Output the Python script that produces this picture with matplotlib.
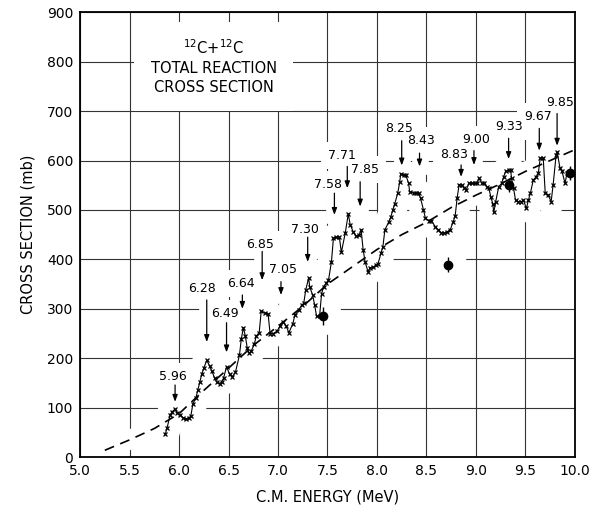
import numpy as np
import matplotlib
matplotlib.use("Agg")
import matplotlib.pyplot as plt

# ==================== DATA ====================

# measured total reaction cross section (x marks joined by a line)
energy = [5.86, 5.88, 5.91, 5.93, 5.96, 5.98, 6.01, 6.04, 6.07, 6.10,
          6.12, 6.14, 6.17, 6.19, 6.21, 6.23, 6.25, 6.28, 6.31, 6.33,
          6.36, 6.38, 6.41, 6.43, 6.45, 6.48, 6.51, 6.54, 6.57, 6.61,
          6.63, 6.65, 6.67, 6.69, 6.71, 6.73, 6.76, 6.78, 6.81, 6.83,
          6.87, 6.90, 6.92, 6.95, 6.99, 7.02, 7.05, 7.08, 7.11, 7.15,
          7.17, 7.21, 7.24, 7.26, 7.28, 7.31, 7.32, 7.35, 7.37, 7.39,
          7.42, 7.44, 7.46, 7.49, 7.51, 7.54, 7.56, 7.59, 7.62, 7.64,
          7.68, 7.71, 7.73, 7.76, 7.79, 7.82, 7.84, 7.86, 7.88, 7.91,
          7.93, 7.96, 7.99, 8.01, 8.04, 8.06, 8.08, 8.12, 8.14, 8.16,
          8.18, 8.21, 8.23, 8.24, 8.27, 8.29, 8.32, 8.33, 8.37, 8.39,
          8.42, 8.44, 8.47, 8.49, 8.53, 8.55, 8.59, 8.62, 8.65, 8.68,
          8.71, 8.74, 8.77, 8.79, 8.81, 8.83, 8.86, 8.88, 8.90, 8.93,
          8.96, 8.99, 9.01, 9.03, 9.06, 9.08, 9.11, 9.13, 9.15, 9.17,
          9.18, 9.20, 9.23, 9.26, 9.28, 9.30, 9.33, 9.35, 9.36, 9.38,
          9.40, 9.43, 9.46, 9.48, 9.51, 9.53, 9.55, 9.58, 9.61, 9.63,
          9.65, 9.68, 9.70, 9.73, 9.76, 9.78, 9.81, 9.82, 9.85, 9.87,
          9.90, 9.92]
sigma = [46, 60, 85, 92, 97, 90, 86, 80, 77, 79,
         84, 108, 120, 136, 152, 168, 180, 196, 184, 175,
         160, 152, 149, 152, 160, 183, 168, 163, 172, 206,
         240, 262, 245, 220, 210, 215, 228, 245, 252, 295,
         292, 290, 250, 250, 255, 265, 274, 266, 252, 270,
         287, 298, 308, 311, 338, 363, 345, 328, 308, 285,
         285, 330, 345, 352, 358, 395, 443, 445, 445, 414,
         454, 492, 470, 456, 447, 449, 460, 420, 395, 375,
         383, 384, 388, 391, 412, 426, 460, 476, 486, 500,
         513, 534, 557, 573, 571, 571, 554, 537, 534, 534,
         534, 524, 500, 483, 478, 478, 466, 460, 454, 453,
         456, 460, 476, 488, 524, 551, 550, 545, 540, 554,
         554, 554, 554, 564, 554, 554, 547, 544, 527, 513,
         495, 517, 547, 554, 567, 578, 580, 581, 564, 544,
         520, 517, 517, 520, 503, 520, 534, 561, 567, 574,
         605, 605, 534, 530, 517, 551, 611, 618, 584, 578,
         554, 574]

# smooth (dashed) curve
curve_e = [5.25, 5.5, 5.75, 6.0, 6.25, 6.5, 6.75, 7.0, 7.25, 7.5,
           7.75, 8.0, 8.25, 8.5, 8.75, 9.0, 9.25, 9.5, 9.75, 10.0]
curve_s = [14, 35, 58, 88, 135, 180, 226, 265, 305, 350,
           385, 420, 450, 475, 505, 530, 553, 578, 600, 622]

# other measurements (filled circles with error bars)
dot_e = [7.45, 8.72, 9.33, 9.95]
dot_s = [285, 389, 551, 575]
dot_err = [18, 15, 14, 14]

# resonance labels: text, arrow x, arrow tail, arrow tip, text x, text y
peak_labels = ["5.96", "6.28", "6.49", "6.64", "6.85", "7.05", "7.30", "7.58",
               "7.71", "7.85", "8.25", "8.43", "8.83", "9.00", "9.33", "9.67",
               "9.85"]
arrow_x = [5.96, 6.28, 6.48, 6.64, 6.84, 7.03, 7.30, 7.57,
           7.70, 7.83, 8.25, 8.43, 8.85, 8.98, 9.33, 9.64, 9.82]
arrow_tail = [146, 318, 272, 328, 416, 355, 445, 534,
              588, 557, 640, 615, 591, 620, 645, 665, 695]
arrow_tip = [112, 233, 212, 300, 358, 328, 395, 490,
             544, 507, 590, 588, 567, 591, 603, 620, 630]
label_x = [5.94, 6.23, 6.46, 6.63, 6.82, 7.05, 7.27, 7.51,
           7.65, 7.88, 8.22, 8.44, 8.78, 9.00, 9.33, 9.63, 9.85]
label_y = [163, 341, 291, 352, 430, 379, 461, 552,
           610, 581, 665, 640, 612, 643, 668, 690, 718]

x_ticks = np.arange(5.0, 10.01, 0.5)
y_ticks = np.arange(0, 901, 100)

# ==================== PLOT ====================

plt.rcParams['font.family'] = ['DejaVu Sans']

fig = plt.figure(figsize=(6.02, 5.08), dpi=100)
ax = fig.add_axes([0.133, 0.100, 0.822, 0.876])

ax.set_xlim(5.0, 10.0)
ax.set_ylim(0, 900)
ax.set_xticks(x_ticks)
ax.set_yticks(y_ticks)
ax.set_xticklabels([f"{v:.1f}" for v in x_ticks], fontsize=10)
ax.set_yticklabels([str(v) for v in y_ticks], fontsize=10)
ax.tick_params(length=0, pad=5)
ax.grid(True, color="#333333", linewidth=0.8, zorder=0)
ax.set_axisbelow(True)
for sp in ax.spines.values():
    sp.set_linewidth(1.3)
    sp.set_zorder(10)

# the hand drawn grid stops short of the curves and labels:
# white halos underneath everything
ax.plot(energy, sigma, color="white", linewidth=20, solid_capstyle="round",
        solid_joinstyle="round", zorder=1)
ax.plot(curve_e, curve_s, color="white", linewidth=14, solid_capstyle="round",
        zorder=1)
ax.plot(dot_e, dot_s, "o", color="white", markersize=26, zorder=1)
for i in range(len(peak_labels)):
    ax.plot([arrow_x[i], arrow_x[i]], [arrow_tail[i], arrow_tip[i]],
            color="white", linewidth=12, zorder=1)
    ax.text(label_x[i], label_y[i], peak_labels[i], fontsize=9,
            ha="center", va="center", color="white", zorder=1,
            bbox=dict(facecolor="white", edgecolor="none", pad=5))

ax.plot(curve_e, curve_s, color="black", linestyle=(0, (6, 4)), linewidth=1.2,
        zorder=3)
ax.plot(energy, sigma, color="black", linewidth=0.8, marker="x",
        markersize=3.5, markeredgewidth=0.9, zorder=4)
ax.errorbar(dot_e, dot_s, yerr=dot_err, fmt="o", color="black",
            markersize=6, elinewidth=1.0, capsize=0, zorder=5)

for i in range(len(peak_labels)):
    ax.annotate("", xy=(arrow_x[i], arrow_tip[i]),
                xytext=(arrow_x[i], arrow_tail[i]),
                arrowprops=dict(arrowstyle="-|>,head_length=0.4,head_width=0.15",
                                color="black", linewidth=0.9,
                                shrinkA=0, shrinkB=0), zorder=5)
    ax.text(label_x[i], label_y[i], peak_labels[i], fontsize=9,
            ha="center", va="center", zorder=6)

ax.text(6.35, 790, "$^{12}$C+$^{12}$C\nTOTAL REACTION\nCROSS SECTION",
        fontsize=10.5, ha="center", va="center", linespacing=1.3, zorder=6,
        bbox=dict(facecolor="white", edgecolor="none", pad=12))

ax.set_xlabel("C.M. ENERGY (MeV)", fontsize=10.5, labelpad=8)
ax.set_ylabel("CROSS SECTION (mb)", fontsize=10.5, labelpad=8)

fig.savefig("out.png", dpi=100)
